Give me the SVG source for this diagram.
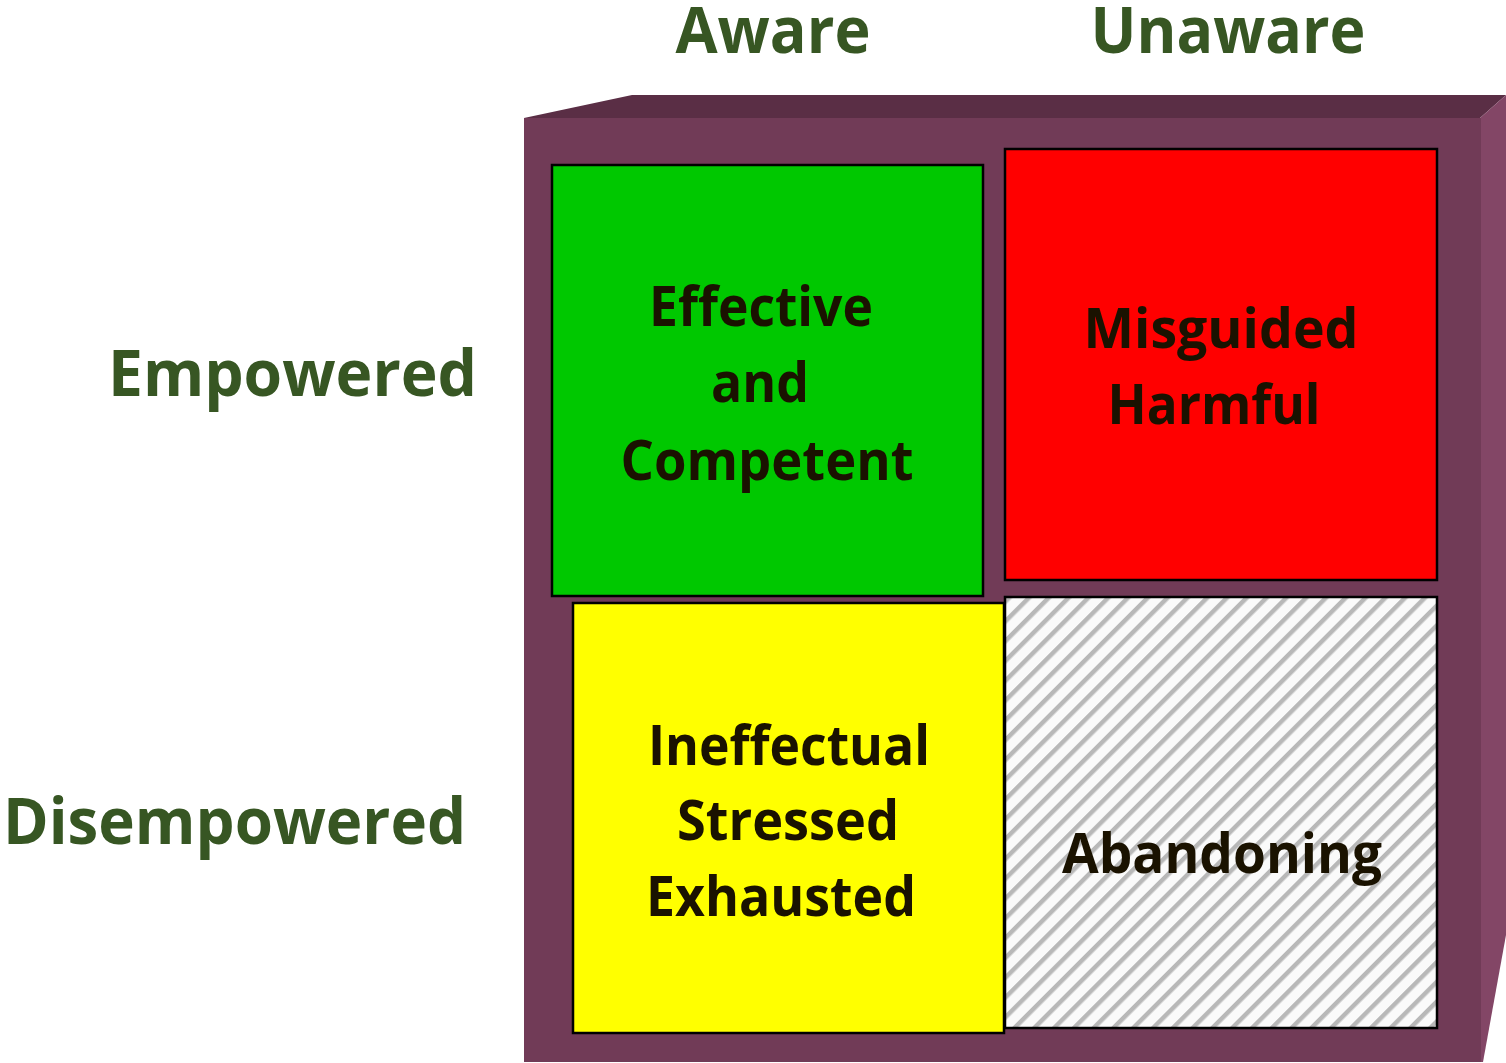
<svg xmlns="http://www.w3.org/2000/svg" width="1506" height="1063" viewBox="0 0 1506 1063">
<style>
.axis{font-family:"Open Sans","Liberation Sans",sans-serif;font-weight:700;fill:#375623}
.lbl{font-family:"Open Sans","Liberation Sans",sans-serif;font-weight:700;fill:#1a1200;text-anchor:middle}
.box{stroke:#000;stroke-width:2.5}
</style>
<defs>
<pattern id="hatch" width="14" height="14" patternUnits="userSpaceOnUse" patternTransform="rotate(-45)">
<rect width="14" height="14" fill="#fafafa"/>
<rect x="0" y="0" width="14" height="4.5" fill="#b8b8b8"/>
</pattern>
</defs>
<rect width="1506" height="1063" fill="#fff"/>
<g id="frame">
<polygon points="524,118 632,95 1506,95 1480,118" fill="#5a2e45"/>
<polygon points="1480,118 1506,95 1506,935 1483,1062 1480,1062" fill="#834666"/>
<rect x="524" y="118" width="957" height="944" fill="#713b57"/>
</g>
<g id="axis-labels">
<text class="axis" x="773" y="53" font-size="64" text-anchor="middle" textLength="195" lengthAdjust="spacingAndGlyphs">Aware</text>
<text class="axis" x="1228" y="53" font-size="64" text-anchor="middle" textLength="275" lengthAdjust="spacingAndGlyphs">Unaware</text>
<text class="axis" x="108" y="396" font-size="64" textLength="369" lengthAdjust="spacingAndGlyphs">Empowered</text>
<text class="axis" x="3" y="844" font-size="64" textLength="463" lengthAdjust="spacingAndGlyphs">Disempowered</text>
</g>
<g id="node-effective">
<rect class="box" x="552" y="165" width="431" height="431" fill="#00c800"/>
<text class="lbl" x="761" y="326" font-size="56" textLength="224" lengthAdjust="spacingAndGlyphs">Effective</text>
<text class="lbl" x="760" y="402" font-size="56" textLength="98" lengthAdjust="spacingAndGlyphs">and</text>
<text class="lbl" x="767" y="480" font-size="56" textLength="293" lengthAdjust="spacingAndGlyphs">Competent</text>
</g>
<g id="node-misguided">
<rect class="box" x="1005" y="149" width="432" height="431" fill="#ff0000"/>
<text class="lbl" x="1221" y="348" font-size="56" textLength="275" lengthAdjust="spacingAndGlyphs">Misguided</text>
<text class="lbl" x="1214" y="424" font-size="56" textLength="213" lengthAdjust="spacingAndGlyphs">Harmful</text>
</g>
<g id="node-ineffectual">
<rect class="box" x="573" y="603" width="431" height="430" fill="#ffff00"/>
<text class="lbl" x="789" y="765" font-size="56" textLength="282" lengthAdjust="spacingAndGlyphs">Ineffectual</text>
<text class="lbl" x="788" y="840" font-size="56" textLength="222" lengthAdjust="spacingAndGlyphs">Stressed</text>
<text class="lbl" x="781" y="916" font-size="56" textLength="270" lengthAdjust="spacingAndGlyphs">Exhausted</text>
</g>
<g id="node-abandoning">
<rect class="box" x="1005" y="597" width="432" height="431" fill="url(#hatch)"/>
<text class="lbl" x="1222" y="873" font-size="56" textLength="320" lengthAdjust="spacingAndGlyphs">Abandoning</text>
</g>
<g id="connectors"/>
</svg>
